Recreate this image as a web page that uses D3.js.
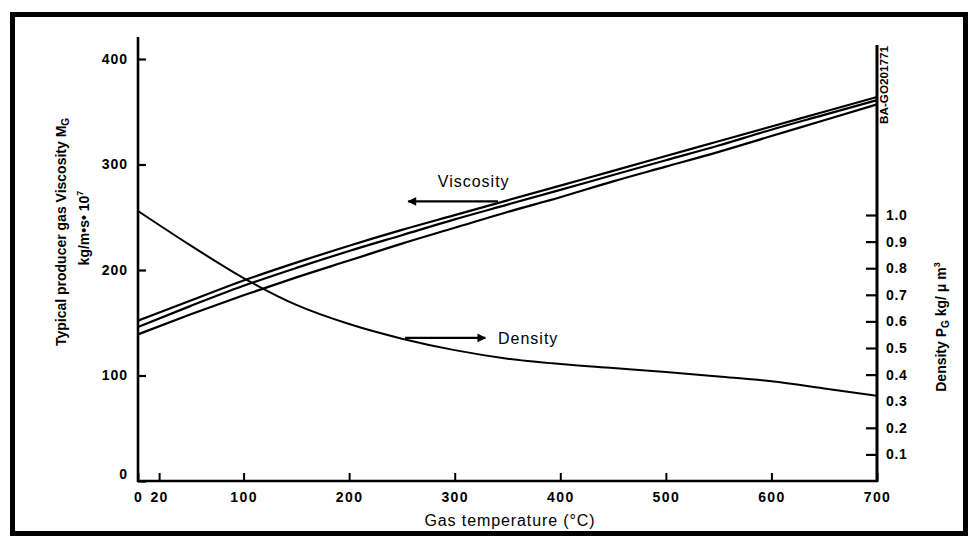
<!DOCTYPE html>
<html>
<head>
<meta charset="utf-8">
<script src="https://cdn.jsdelivr.net/npm/d3@7"></script>
<style>
  html, body { margin: 0; padding: 0; background: #fff; }
  svg { display: block; }
  text { font-family: "Liberation Sans", Arial, Helvetica, sans-serif; fill: #000; }
</style>
</head>
<body>
<svg id="chart" width="973" height="541"></svg>
<script>
// ---- data ----
const temperatures = [0, 50, 100, 150, 200, 250, 300, 350, 400, 450, 500, 550, 600, 650, 700];
const viscosityUpper  = [152, 171, 190, 207, 223, 238, 252, 266, 280, 294, 308, 322, 336, 350, 364];
const viscosityMiddle = [146, 166, 185, 202, 218, 233, 248, 262, 276, 290, 304, 318, 333, 347, 361];
const viscosityLower  = [139, 158, 176, 193, 209, 225, 240, 255, 269, 284, 298, 312, 327, 342, 357];
const density         = [1.015, 0.885, 0.763, 0.662, 0.59, 0.535, 0.492, 0.46, 0.44, 0.425, 0.41, 0.393, 0.375, 0.348, 0.32];

const xTicks = [0, 20, 100, 200, 300, 400, 500, 600, 700];
const viscosityTicks = [0, 100, 200, 300, 400];
const densityTicks = [0.1, 0.2, 0.3, 0.4, 0.5, 0.6, 0.7, 0.8, 0.9, 1.0];

// ---- layout ----
const svg = d3.select("#chart");
const x  = d3.scaleLinear().domain([0, 700]).range([138, 877]);
const yV = d3.scaleLinear().domain([0, 400]).range([481, 59]);
const yD = d3.scaleLinear().domain([0, 1]).range([481, 215]);

// frame
svg.append("rect")
  .attr("x", 12.5).attr("y", 14.5).attr("width", 953).attr("height", 519)
  .attr("fill", "none").attr("stroke", "#000").attr("stroke-width", 5);

// axes
const tickFont = (g, ls) => g.selectAll("text")
  .style("font-size", "14px").style("font-weight", "bold")
  .style("letter-spacing", ls + "px").attr("fill", "#000");

const gLeft = svg.append("g").attr("transform", `translate(${x(0)},0)`)
  .call(d3.axisLeft(yV).tickValues(viscosityTicks).tickSizeInner(-8).tickSizeOuter(0).tickPadding(10));
gLeft.select(".domain").remove();
gLeft.selectAll("line").attr("stroke", "#000").attr("stroke-width", 2.2);
tickFont(gLeft, 1);
gLeft.selectAll(".tick").filter(d => d === 0).select("text").attr("dy", "-0.2em");

const gRight = svg.append("g").attr("transform", `translate(${x(700)},0)`)
  .call(d3.axisRight(yD).tickValues(densityTicks).tickFormat(d3.format(".1f"))
    .tickSizeInner(-11).tickSizeOuter(0).tickPadding(9));
gRight.select(".domain").remove();
gRight.selectAll("line").attr("stroke", "#000").attr("stroke-width", 2.2);
gRight.selectAll(".tick").filter(d => Math.abs(d - 0.3) < 1e-9).select("line").remove();
tickFont(gRight, 0.7);

const gBottom = svg.append("g").attr("transform", `translate(0,${yV(0)})`)
  .call(d3.axisBottom(x).tickValues(xTicks).tickSizeInner(-8).tickSizeOuter(0).tickPadding(11));
gBottom.select(".domain").remove();
gBottom.selectAll("line").attr("stroke", "#000").attr("stroke-width", 2);
tickFont(gBottom, 1.4);

// axis lines
svg.append("line").attr("x1", x(0)).attr("x2", x(0)).attr("y1", yV(0) + 1).attr("y2", 37)
  .attr("stroke", "#000").attr("stroke-width", 2.6);
svg.append("line").attr("x1", x(700)).attr("x2", x(700)).attr("y1", yV(0) + 1).attr("y2", 45)
  .attr("stroke", "#000").attr("stroke-width", 3);
svg.append("line").attr("x1", x(0) - 1).attr("x2", x(700) + 1).attr("y1", yV(0)).attr("y2", yV(0))
  .attr("stroke", "#000").attr("stroke-width", 2.6);

// curves
const vLine = d3.line().x((d, i) => x(temperatures[i])).y(d => yV(d)).curve(d3.curveMonotoneX);
const dLine = d3.line().x((d, i) => x(temperatures[i])).y(d => yD(d)).curve(d3.curveMonotoneX);

[viscosityUpper, viscosityMiddle, viscosityLower].forEach(series => {
  svg.append("path").datum(series).attr("d", vLine)
    .attr("fill", "none").attr("stroke", "#000").attr("stroke-width", 2.2);
});
svg.append("path").datum(density).attr("d", dLine)
  .attr("fill", "none").attr("stroke", "#000").attr("stroke-width", 2);

// arrow markers
const defs = svg.append("defs");
defs.append("marker").attr("id", "arrow").attr("viewBox", "0 0 10 10")
  .attr("refX", 9).attr("refY", 5).attr("markerWidth", 6).attr("markerHeight", 4)
  .attr("orient", "auto").attr("markerUnits", "strokeWidth")
  .append("path").attr("d", "M0,0 L10,5 L0,10 z").attr("fill", "#000");

// viscosity annotation
svg.append("line").attr("x1", x(341)).attr("x2", x(256)).attr("y1", yV(265)).attr("y2", yV(265))
  .attr("stroke", "#000").attr("stroke-width", 2.2).attr("marker-end", "url(#arrow)");
svg.append("text").attr("x", x(318)).attr("y", yV(279)).attr("text-anchor", "middle")
  .style("font-size", "16px").style("letter-spacing", "1px").text("Viscosity");

// density annotation
svg.append("line").attr("x1", x(253)).attr("x2", x(329)).attr("y1", yD(0.538)).attr("y2", yD(0.538))
  .attr("stroke", "#000").attr("stroke-width", 2.2).attr("marker-end", "url(#arrow)");
svg.append("text").attr("x", x(341)).attr("y", yD(0.538) + 6).attr("text-anchor", "start")
  .style("font-size", "16px").style("letter-spacing", "1px").text("Density");

// axis titles
const t1 = svg.append("text").attr("transform", "translate(66,232) rotate(-90)")
  .attr("text-anchor", "middle").style("font-size", "14px").style("font-weight", "bold");
t1.append("tspan").text("Typical producer gas  Viscosity  M");
t1.append("tspan").attr("dy", 3).style("font-size", "10px").text("G");

const t2 = svg.append("text").attr("transform", "translate(89,228) rotate(-90)")
  .attr("text-anchor", "middle").style("font-size", "14px").style("font-weight", "bold");
t2.append("tspan").text("kg/m\u2022s\u2022 10");
t2.append("tspan").attr("dy", -6).style("font-size", "9px").text("7");

const t3 = svg.append("text").attr("transform", "translate(946,327) rotate(-90)")
  .attr("text-anchor", "middle").style("font-size", "14px").style("font-weight", "bold");
t3.append("tspan").text("Density P");
t3.append("tspan").attr("dy", 3).style("font-size", "10px").text("G");
t3.append("tspan").attr("dy", -3).text(" kg/ \u03bc m");
t3.append("tspan").attr("dy", -6).style("font-size", "9px").text("3");

svg.append("text").attr("x", 510).attr("y", 526).attr("text-anchor", "middle")
  .style("font-size", "16px").style("letter-spacing", "0.9px").text("Gas temperature (\u00b0C)");

svg.append("text").attr("transform", "translate(888,85) rotate(-90)")
  .attr("text-anchor", "middle").style("font-size", "10px").style("font-weight", "bold")
  .attr("textLength", 78).attr("lengthAdjust", "spacingAndGlyphs").text("BA-GO201771");
</script>
</body>
</html>
